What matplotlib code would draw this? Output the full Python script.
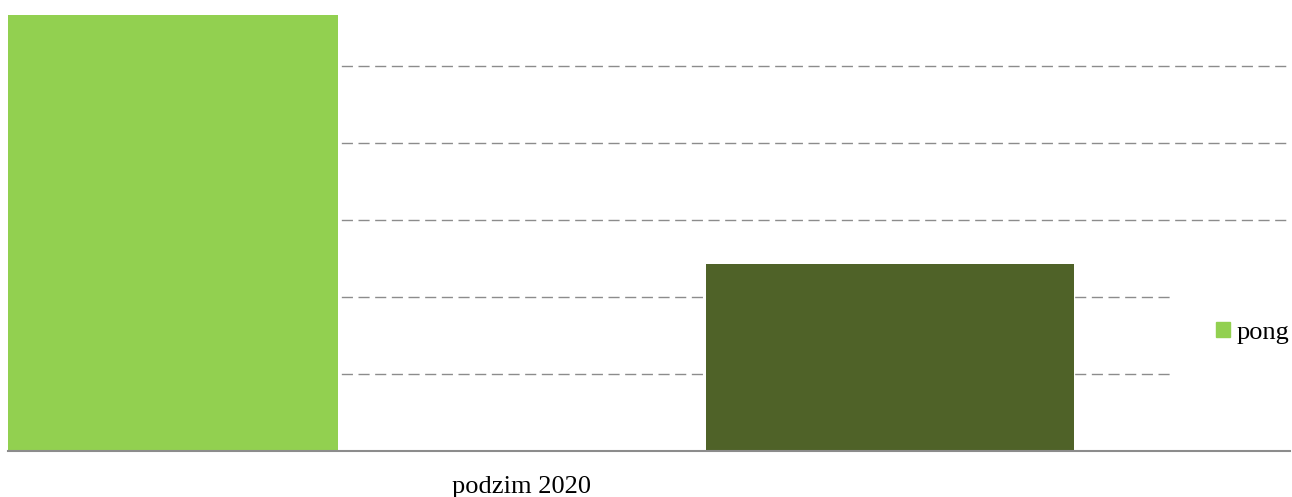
import matplotlib.pyplot as plt
from matplotlib.patches import Patch

category = "podzim 2020"
series_name = "pong"
values = [5.66, 2.43]
colors = ["#92D050", "#4F6228"]
gridlines = [1, 2, 3, 4, 5]

plt.rcParams['font.family'] = ['Liberation Serif', 'DejaVu Serif']

fig = plt.figure(figsize=(12.92, 4.97), dpi=100)
ax = fig.add_axes([8/1292, 46/497, 1282/1292, 436/497])

pos = [0, 1]
ax.bar(pos, values, width=0.5, color=colors, zorder=2)
for g in gridlines:
    ax.axhline(g, color="#8c8c8c", lw=1, ls=(0, (8, 4)), zorder=1)

ax.set_xlim(-0.198, 1.544)
ax.set_ylim(0, 5.66)
for s in ["top", "right", "left"]:
    ax.spines[s].set_visible(False)
ax.spines["bottom"].set_color("#8c8c8c")
ax.spines["bottom"].set_linewidth(1.5)
ax.spines["bottom"].set_zorder(3)
ax.set_yticks([])
ax.set_xticks([0.5])
ax.set_xticklabels([category], fontsize=19)
ax.tick_params(axis="x", length=0, pad=18)

handle = Patch(color=colors[0], label=series_name)
leg = fig.legend(handles=[handle], loc="center left",
                 bbox_to_anchor=(1174/1292, 1 - 333/497), borderaxespad=0,
                 fontsize=19, handlelength=0.53, handleheight=0.53,
                 handletextpad=0.23, borderpad=1.6, frameon=True,
                 facecolor="white", edgecolor="none", framealpha=1, fancybox=False)

fig.savefig("out.png", dpi=100)
